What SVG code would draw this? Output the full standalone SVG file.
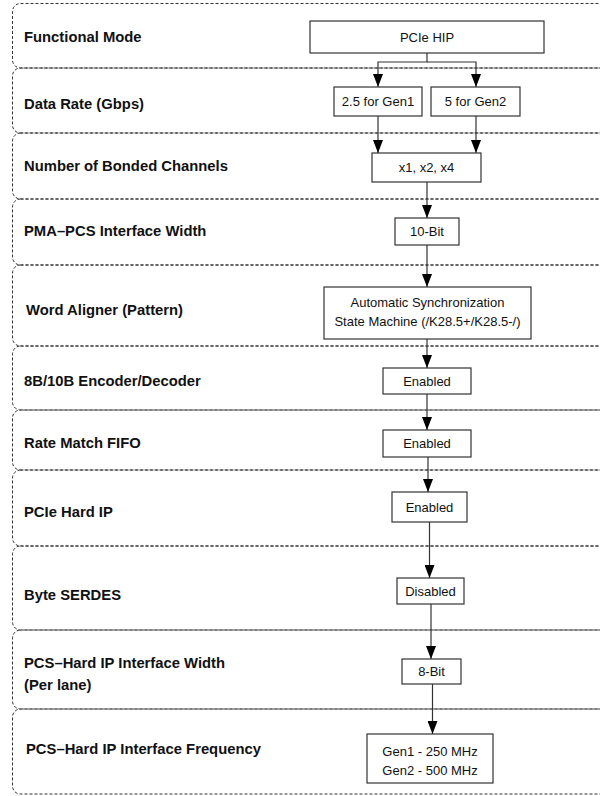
<svg xmlns="http://www.w3.org/2000/svg" width="600" height="796" viewBox="0 0 600 796">
  <defs>
    <style>
      .row { fill: none; stroke: #333; stroke-width: 1; stroke-dasharray: 3 2; }
      .lbl { font-family: "Liberation Sans", Arial, sans-serif; font-weight: bold; font-size: 14.8px; fill: #111; }
      .box { fill: #fff; stroke: #333; stroke-width: 1.2; }
      .txt { font-family: "Liberation Sans", Arial, sans-serif; font-size: 13px; fill: #111; text-anchor: middle; }
      .wire { fill: none; stroke: #333; stroke-width: 1.2; }
    </style>
    <marker id="arrow" viewBox="0 0 13 10" refX="13" refY="5" markerWidth="13" markerHeight="10" markerUnits="userSpaceOnUse" orient="auto">
      <path d="M0,0 L13,5 L0,10 Z" fill="#000"/>
    </marker>
  </defs>
  <rect width="600" height="796" fill="#fff"/>

  <!-- parameter rows -->
  <g id="rows">
    <rect class="row" x="12.5" y="3.5" width="620" height="64.5" rx="8"/>
    <rect class="row" x="12.5" y="68" width="620" height="65" rx="8"/>
    <rect class="row" x="12.5" y="133" width="620" height="66" rx="8"/>
    <rect class="row" x="12.5" y="199" width="620" height="66" rx="8"/>
    <rect class="row" x="12.5" y="265" width="620" height="81" rx="8"/>
    <rect class="row" x="12.5" y="346" width="620" height="64" rx="8"/>
    <rect class="row" x="12.5" y="410" width="620" height="60" rx="8"/>
    <rect class="row" x="12.5" y="470" width="620" height="76" rx="8"/>
    <rect class="row" x="12.5" y="546" width="620" height="84" rx="8"/>
    <rect class="row" x="12.5" y="630" width="620" height="79" rx="8"/>
    <rect class="row" x="12.5" y="709" width="620" height="85" rx="8"/>
  </g>

  <g id="labels">
    <text class="lbl" x="24" y="42">Functional Mode</text>
    <text class="lbl" x="24" y="109">Data Rate (Gbps)</text>
    <text class="lbl" x="24" y="171">Number of Bonded Channels</text>
    <text class="lbl" x="24" y="236">PMA–PCS Interface Width</text>
    <text class="lbl" x="26" y="315">Word Aligner (Pattern)</text>
    <text class="lbl" x="24" y="386">8B/10B Encoder/Decoder</text>
    <text class="lbl" x="24" y="448">Rate Match FIFO</text>
    <text class="lbl" x="24" y="517">PCIe Hard IP</text>
    <text class="lbl" x="24" y="600">Byte SERDES</text>
    <text class="lbl" x="24" y="668">PCS–Hard IP Interface Width</text>
    <text class="lbl" x="24" y="690">(Per lane)</text>
    <text class="lbl" x="26" y="754">PCS–Hard IP Interface Frequency</text>
  </g>

  <!-- connectors -->
  <g id="connectors">
    <path class="wire" d="M427,53 V62 H378 V87" marker-end="url(#arrow)"/>
    <path class="wire" d="M427,62 H476 V87" marker-end="url(#arrow)"/>
    <path class="wire" d="M378,116 V153" marker-end="url(#arrow)"/>
    <path class="wire" d="M476,116 V153" marker-end="url(#arrow)"/>
    <path class="wire" d="M427,182 V218" marker-end="url(#arrow)"/>
    <path class="wire" d="M427,245 V287" marker-end="url(#arrow)"/>
    <path class="wire" d="M427,339 V368" marker-end="url(#arrow)"/>
    <path class="wire" d="M427,394 V430" marker-end="url(#arrow)"/>
    <path class="wire" d="M428,457 V492" marker-end="url(#arrow)"/>
    <path class="wire" d="M429.5,522 V578" marker-end="url(#arrow)"/>
    <path class="wire" d="M431,604 V659" marker-end="url(#arrow)"/>
    <path class="wire" d="M432.5,684 V734" marker-end="url(#arrow)"/>
  </g>

  <g id="n-pcie-hip">
    <rect class="box" x="310" y="21" width="234" height="32"/>
    <text class="txt" x="427" y="41.6">PCIe HIP</text>
  </g>
  <g id="n-gen1-rate">
    <rect class="box" x="334" y="87" width="88" height="29"/>
    <text class="txt" x="378" y="106">2.5 for Gen1</text>
  </g>
  <g id="n-gen2-rate">
    <rect class="box" x="431" y="87" width="89" height="29"/>
    <text class="txt" x="475.5" y="106">5 for Gen2</text>
  </g>
  <g id="n-bonded">
    <rect class="box" x="372" y="153" width="109" height="29"/>
    <text class="txt" x="426.5" y="172">x1, x2, x4</text>
  </g>
  <g id="n-pma-width">
    <rect class="box" x="395" y="218" width="64" height="27"/>
    <text class="txt" x="427" y="236">10-Bit</text>
  </g>
  <g id="n-word-aligner">
    <rect class="box" x="324" y="287" width="207" height="52"/>
    <text class="txt" x="427.5" y="306.6">Automatic Synchronization</text>
    <text class="txt" x="427.5" y="325.6">State Machine (/K28.5+/K28.5-/)</text>
  </g>
  <g id="n-8b10b">
    <rect class="box" x="383" y="368" width="88" height="26"/>
    <text class="txt" x="427" y="385.6">Enabled</text>
  </g>
  <g id="n-rate-match">
    <rect class="box" x="383" y="430" width="88" height="27"/>
    <text class="txt" x="427" y="448">Enabled</text>
  </g>
  <g id="n-hard-ip">
    <rect class="box" x="392" y="492" width="75" height="30"/>
    <text class="txt" x="429.5" y="511.6">Enabled</text>
  </g>
  <g id="n-byte-serdes">
    <rect class="box" x="397" y="578" width="67" height="26"/>
    <text class="txt" x="430.5" y="595.6">Disabled</text>
  </g>
  <g id="n-hip-width">
    <rect class="box" x="402" y="659" width="59" height="25"/>
    <text class="txt" x="431.5" y="676">8-Bit</text>
  </g>
  <g id="n-hip-freq">
    <rect class="box" x="367" y="734" width="126" height="49"/>
    <text class="txt" x="430" y="755.6">Gen1 - 250 MHz</text>
    <text class="txt" x="430" y="774.6">Gen2 - 500 MHz</text>
  </g>
</svg>
